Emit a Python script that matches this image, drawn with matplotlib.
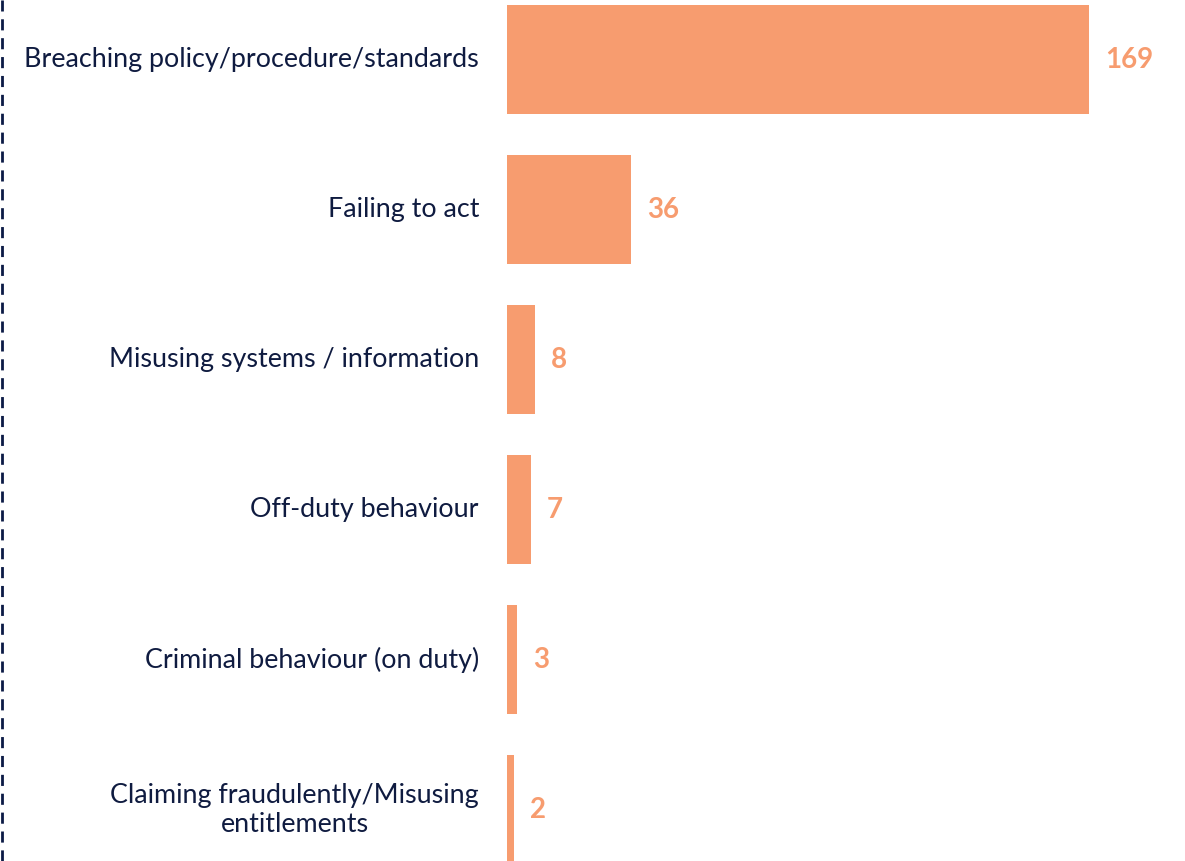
import matplotlib
matplotlib.use("Agg")
import matplotlib.pyplot as plt
from matplotlib.lines import Line2D

categories = [
    "Breaching policy/procedure/standards",
    "Failing to act",
    "Misusing systems / information",
    "Off-duty behaviour",
    "Criminal behaviour (on duty)",
    "Claiming fraudulently/Misusing\nentitlements",
]
counts = [169, 36, 8, 7, 3, 2]

BAR_COLOR = "#F79C6F"
TEXT_COLOR = "#0F1B40"
W, H = 1185, 861

plt.rcParams["font.family"] = ["Lato", "DejaVu Sans"]

fig = plt.figure(figsize=(W / 100, H / 100), dpi=100)
ax = fig.add_axes([507 / W, 0, (W - 507) / W, 1])

px_per_unit = 582 / 169
ax.set_xlim(0, (W - 507) / px_per_unit)
ax.set_ylim((H - 59.5) / 150, -59.5 / 150)

y = list(range(len(categories)))
ax.barh(y, counts, height=109 / 150, color=BAR_COLOR)

for yi, c, lab in zip(y, counts, categories):
    ax.text(c + 16 / px_per_unit, yi, str(c), va="center", ha="left",
            fontsize=20, fontweight="bold", color=BAR_COLOR)
    ax.text(-28 / px_per_unit, yi, lab, va="center", ha="right",
            multialignment="center", fontsize=19.4, color=TEXT_COLOR,
            clip_on=False, linespacing=1.2)

ax.axis("off")

# dashed vertical line on the left edge
fig.add_artist(Line2D([1.5 / W, 1.5 / W], [0, 1], color="#0B1A45", lw=2.0,
                      linestyle=(0, (4.0, 2.8))))

fig.savefig("out.png", dpi=100)
